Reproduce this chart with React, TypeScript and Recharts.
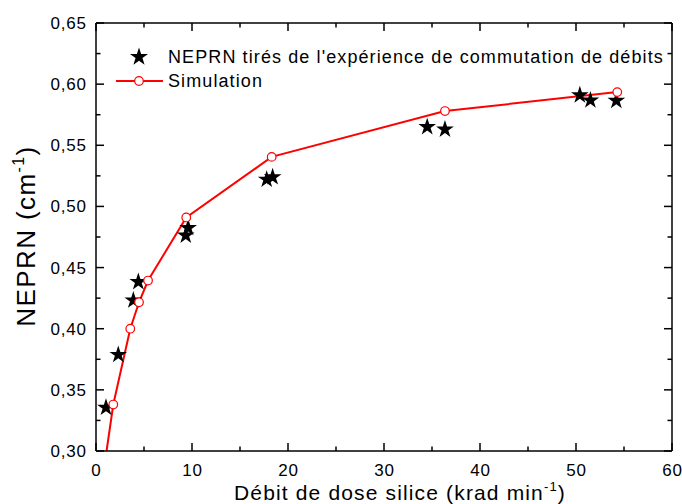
import React from 'react';
import { ComposedChart, XAxis, YAxis, Scatter, Line, Legend } from 'recharts';

// Experimental NEPRN points (star markers)
const expX = [1.04, 2.32, 3.89, 4.41, 9.35, 9.6, 17.78, 18.4, 34.5, 36.35, 50.4, 51.5, 54.2];
const expY = [0.3355, 0.3787, 0.4232, 0.4383, 0.4763, 0.4825, 0.522, 0.524, 0.565, 0.563, 0.591, 0.5868, 0.5865];

// Simulation points (circle markers)
const simX = [1.8, 3.57, 4.48, 5.42, 9.4, 18.3, 36.35, 54.3];
const simY = [0.338, 0.4, 0.4216, 0.4394, 0.491, 0.5405, 0.578, 0.5935];

// Simulation curve start (at lower axis, no marker)
const curveStartX = 1.1;
const curveStartY = 0.3;

const xTicks = [0, 5, 10, 15, 20, 25, 30, 35, 40, 45, 50, 55, 60];
const xMajor = [0, 10, 20, 30, 40, 50, 60];
const yTicks = [0.3, 0.325, 0.35, 0.375, 0.4, 0.425, 0.45, 0.475, 0.5, 0.525, 0.55, 0.575, 0.6, 0.625, 0.65];
const yMajor = [0.3, 0.35, 0.4, 0.45, 0.5, 0.55, 0.6, 0.65];

const legendExp = "NEPRN tirés de l'expérience de commutation de débits";
const legendSim = 'Simulation';
const xTitle = 'Débit de dose silice (krad min';
const yTitle = 'NEPRN (cm';

const expData = expX.map((x, i) => ({ x, y: expY[i] }));
const simData = simX.map((x, i) => ({ x, y: simY[i] }));
const curveData = [{ x: curveStartX, y: curveStartY }, ...simData];

const FONT = '"Liberation Sans", Arial, sans-serif';
const RED = '#ff0000';

const isMajor = (list: number[], v: number) => list.some((m) => Math.abs(m - v) < 1e-6);
const fmt = (v: number) => v.toFixed(2).replace('.', ',');

function starPath(cx: number, cy: number, R: number) {
  const r = R * 0.382;
  const pts: string[] = [];
  for (let i = 0; i < 10; i++) {
    const rad = i % 2 === 0 ? R : r;
    const a = -Math.PI / 2 + (i * Math.PI) / 5;
    pts.push(`${(cx + rad * Math.cos(a)).toFixed(2)},${(cy + rad * Math.sin(a)).toFixed(2)}`);
  }
  return 'M' + pts.join('L') + 'Z';
}

const StarShape = (props: any) => {
  const { cx, cy } = props;
  if (cx == null || cy == null) return null;
  return <path d={starPath(cx, cy, 9.3)} fill="#000" stroke="none" />;
};

const CircleShape = (props: any) => {
  const { cx, cy } = props;
  if (cx == null || cy == null) return null;
  return <circle cx={cx} cy={cy} r={4.3} fill="#fff" stroke={RED} strokeWidth={1.2} />;
};

const TICK_LS = 0.8;

const BottomTick = (props: any) => {
  const { x, y, payload } = props;
  const v = payload.value;
  const major = isMajor(xMajor, v);
  return (
    <g>
      <line x1={x} y1={y} x2={x} y2={y - (major ? 8 : 4.5)} stroke="#000" strokeWidth={1.5} />
      {major && (
        <text
          x={x + TICK_LS / 2}
          y={y + 25}
          textAnchor="middle"
          fontSize={17}
          letterSpacing={TICK_LS}
          fontFamily={FONT}
          fill="#000"
        >
          {String(v)}
        </text>
      )}
    </g>
  );
};

const TopTick = (props: any) => {
  const { x, y, payload } = props;
  const major = isMajor(xMajor, payload.value);
  return <line x1={x} y1={y} x2={x} y2={y + (major ? 8 : 4.5)} stroke="#000" strokeWidth={1.5} />;
};

const LeftTick = (props: any) => {
  const { x, y, payload } = props;
  const v = payload.value;
  const major = isMajor(yMajor, v);
  return (
    <g>
      <line x1={x} y1={y} x2={x + (major ? 8 : 4.5)} y2={y} stroke="#000" strokeWidth={1.5} />
      {major && (
        <text
          x={x - 10 + TICK_LS}
          y={y + 6}
          textAnchor="end"
          fontSize={17}
          letterSpacing={TICK_LS}
          fontFamily={FONT}
          fill="#000"
        >
          {fmt(v)}
        </text>
      )}
    </g>
  );
};

const RightTick = (props: any) => {
  const { x, y, payload } = props;
  const major = isMajor(yMajor, payload.value);
  return <line x1={x} y1={y} x2={x - (major ? 8 : 4.5)} y2={y} stroke="#000" strokeWidth={1.5} />;
};

const XTitle = () => (
  <text x={234} y={500} textAnchor="start" fontSize={21} letterSpacing={1.15} fontFamily={FONT} fill="#000">
    {xTitle}
    <tspan dy={-9} fontSize={13}>-1</tspan>
    <tspan dy={9}>)</tspan>
  </text>
);

const YTitle = () => {
  const cx = 35;
  const cy = 236;
  return (
    <text
      x={cx}
      y={cy}
      transform={`rotate(-90 ${cx} ${cy})`}
      textAnchor="middle"
      fontSize={26}
      letterSpacing={1.4}
      fontFamily={FONT}
      fill="#000"
    >
      {yTitle}
      <tspan dy={-11} fontSize={16}>-1</tspan>
      <tspan dy={11}>)</tspan>
    </text>
  );
};

const LegendContent = () => (
  <div style={{ fontFamily: FONT, fontSize: 18, letterSpacing: 1.1, color: '#000' }}>
    <div style={{ display: 'flex', alignItems: 'center', height: 24, whiteSpace: 'nowrap' }}>
      <svg width={50} height={24}>
        <path d={starPath(25, 12, 9.5)} fill="#000" />
      </svg>
      <span style={{ marginLeft: 4 }}>{legendExp}</span>
    </div>
    <div style={{ display: 'flex', alignItems: 'center', height: 24, whiteSpace: 'nowrap' }}>
      <svg width={50} height={24}>
        <line x1={2} y1={12} x2={49} y2={12} stroke={RED} strokeWidth={2} />
        <circle cx={25} cy={12} r={4.3} fill="#fff" stroke={RED} strokeWidth={1.2} />
      </svg>
      <span style={{ marginLeft: 4 }}>{legendSim}</span>
    </div>
  </div>
);

export default function App() {
  return (
    <div style={{ position: 'absolute', left: 0, top: 0, width: 682, height: 504, background: '#fff', overflow: 'hidden' }}>
      <ComposedChart width={682} height={504} margin={{ top: 22, right: 9, bottom: 52, left: 95 }}>
        <XAxis
          xAxisId="b"
          type="number"
          dataKey="x"
          domain={[0, 60]}
          ticks={xTicks}
          interval={0}
          height={1}
          tickSize={0}
          tickMargin={0}
          tickLine={false}
          tick={<BottomTick />}
          axisLine={{ stroke: '#000', strokeWidth: 1.5 }}
          allowDataOverflow
          label={<XTitle />}
        />
        <XAxis
          xAxisId="t"
          orientation="top"
          type="number"
          dataKey="x"
          domain={[0, 60]}
          ticks={xTicks}
          interval={0}
          height={1}
          tickSize={0}
          tickMargin={0}
          tickLine={false}
          tick={<TopTick />}
          axisLine={{ stroke: '#000', strokeWidth: 1.5 }}
          allowDataOverflow
        />
        <YAxis
          yAxisId="l"
          type="number"
          dataKey="y"
          domain={[0.3, 0.65]}
          ticks={yTicks}
          interval={0}
          width={1}
          tickSize={0}
          tickMargin={0}
          tickLine={false}
          tick={<LeftTick />}
          axisLine={{ stroke: '#000', strokeWidth: 1.5 }}
          allowDataOverflow
          label={<YTitle />}
        />
        <YAxis
          yAxisId="r"
          orientation="right"
          type="number"
          dataKey="y"
          domain={[0.3, 0.65]}
          ticks={yTicks}
          interval={0}
          width={1}
          tickSize={0}
          tickMargin={0}
          tickLine={false}
          tick={<RightTick />}
          axisLine={{ stroke: '#000', strokeWidth: 1.5 }}
          allowDataOverflow
        />
        <Scatter
          xAxisId="b"
          yAxisId="l"
          data={expData}
          dataKey="y"
          shape={<StarShape />}
          isAnimationActive={false}
        />
        <Line
          xAxisId="b"
          yAxisId="l"
          data={curveData}
          dataKey="y"
          type="linear"
          stroke={RED}
          strokeWidth={2}
          dot={false}
          activeDot={false}
          isAnimationActive={false}
        />
        <Scatter
          xAxisId="b"
          yAxisId="l"
          data={simData}
          dataKey="y"
          shape={<CircleShape />}
          isAnimationActive={false}
        />
        <Legend
          layout="vertical"
          align="center"
          verticalAlign="middle"
          content={<LegendContent />}
          wrapperStyle={{ position: 'absolute', left: 114, top: 45, width: 560 }}
        />
      </ComposedChart>
    </div>
  );
}
